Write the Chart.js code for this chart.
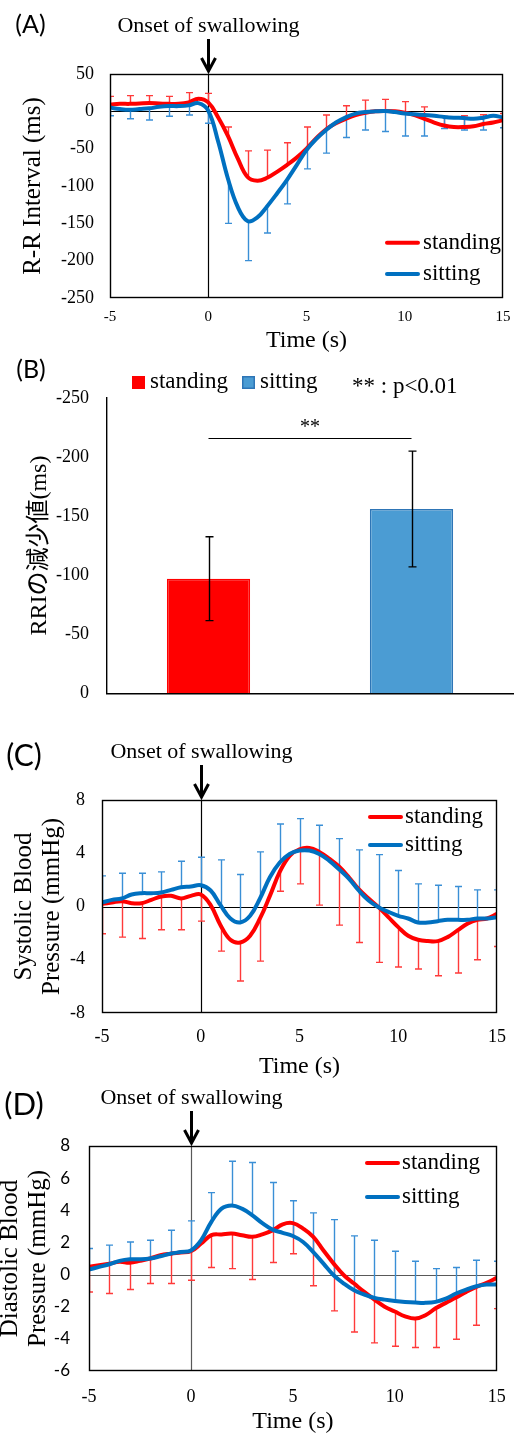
<!DOCTYPE html>
<html><head><meta charset="utf-8">
<script src="https://cdn.jsdelivr.net/npm/chart.js@4.4.1/dist/chart.umd.min.js"></script>
<style>
html,body{margin:0;padding:0;background:#fff;overflow:hidden;}
#wrap{position:relative;width:521px;height:1434px;overflow:hidden;background:#fff;}
canvas{position:absolute;left:0;}
</style></head><body><div id="wrap">
<canvas id="cA" width="521" height="355" style="top:0px"></canvas>
<canvas id="cB" width="521" height="367" style="top:355px"></canvas>
<canvas id="cC" width="521" height="360" style="top:722px"></canvas>
<canvas id="cD" width="521" height="358" style="top:1078px"></canvas>
</div>
<script>
// ---------- DATA ----------
const timeLine = [-5,-4.5,-4,-3.5,-3,-2.5,-2,-1.5,-1,-0.5,0,0.5,1,1.5,2,2.5,3,3.5,4,4.5,5,5.5,6,6.5,7,7.5,8,8.5,9,9.5,10,10.5,11,11.5,12,12.5,13,13.5,14,14.5,15];
const timeErr = [-5,-4,-3,-2,-1,0,1,2,3,4,5,6,7,8,9,10,11,12,13,14,15];
const xTicksTime = [-5,0,5,10,15];

// (A) R-R interval (ms)
const rriStanding = [9,10,10,10.5,11,10.5,10,10,12,17,12,-8,-33,-63,-88,-93,-89,-81,-72,-62,-50,-36,-24,-16,-10,-5,-2,0,0.5,0,-2,-5,-10,-15,-19,-21,-21,-20,-17,-15,-12];
const rriSitting = [5,3,2,3,4,6,7,7,8,11,1,-40,-90,-128,-147,-142,-127,-110,-92,-72,-52,-37,-25,-15,-8,-3,-1,0,0.5,-1,-3,-4,-5,-6,-7.5,-8.5,-9,-10,-8.5,-6,-8];
const rriStandingSD = [11,11,10,10,13,12,12,35,37,30,29,19,17.5,17,15.5,15,16,12,15,12.5,9];
const rriSittingSD = [11,12,15.6,13.5,13,17,60,53,36,32,25,31,27,24,27.5,30,28,15.5,16,16.5,14];

// (B) RRI decrease
const groups = ['standing','sitting'];
const rriDrop = [-97,-156];
const rriDropSD = [35.5,49];

// (C) Systolic blood pressure (mmHg)
const sbpStanding = [0.2,0.3,0.4,0.25,0.25,0.5,0.75,0.8,0.6,0.8,0.9,0.1,-1.4,-2.5,-2.7,-2.2,-0.9,0.8,2.6,3.8,4.3,4.4,4.1,3.6,3.0,2.2,1.3,0.6,-0.05,-0.8,-1.55,-2.2,-2.5,-2.6,-2.6,-2.3,-1.8,-1.3,-1.0,-0.9,-0.55];
const sbpSitting = [0.3,0.5,0.6,0.9,1.0,1.0,1.05,1.25,1.45,1.5,1.6,1.2,0.1,-0.9,-1.2,-0.7,0.6,2.2,3.3,3.95,4.2,4.2,3.95,3.45,2.8,2.1,1.2,0.45,-0.05,-0.4,-0.7,-0.9,-1.2,-1.2,-1.1,-1.0,-1.0,-1.0,-0.9,-0.9,-0.8];
const sbpStandingSD = [2.25,2.7,2.65,2.5,2.35,2.0,1.95,2.9,3.2,1.45,2.6,4.0,4.4,4.0,4.15,3.0,2.2,2.6,3.2,3.0,2.45];
const sbpSittingSD = [2.0,1.9,1.5,1.55,1.95,2.1,3.4,3.6,3.5,2.9,2.4,2.15,2.3,3.05,3.95,3.4,2.9,2.7,2.5,2.15,2.05];

// (D) Diastolic blood pressure (mmHg)
const dbpStanding = [0.48,0.58,0.68,0.79,0.73,0.85,1.0,1.2,1.3,1.37,1.45,1.93,2.45,2.5,2.55,2.45,2.35,2.5,2.75,3.13,3.2,2.86,2.35,1.5,0.68,-0.04,-0.56,-1.08,-1.56,-2.0,-2.3,-2.6,-2.74,-2.53,-2.1,-1.76,-1.43,-1.08,-0.77,-0.52,-0.2];
const dbpSitting = [0.31,0.48,0.64,0.85,0.95,0.95,1.0,1.14,1.3,1.4,1.5,2.14,3.28,4.1,4.3,4.1,3.7,3.2,2.8,2.6,2.4,2.03,1.4,0.68,-0.04,-0.56,-0.98,-1.24,-1.45,-1.56,-1.64,-1.7,-1.74,-1.76,-1.7,-1.5,-1.18,-0.93,-0.73,-0.62,-0.62];
const dbpStandingSD = [1.56,1.86,1.66,1.56,1.86,1.8,2.01,2.18,2.66,2.0,1.9,3.05,2.94,3.01,2.69,2.16,1.8,2.44,2.59,2.38,1.92];
const dbpSittingSD = [1.31,1.19,1.08,1.14,1.46,1.84,1.82,2.75,3.27,2.93,2.19,2.44,3.46,3.39,3.59,3.09,2.57,2.07,1.62,1.62,1.45];

// ---------- STYLE ----------
const SERIF = '"Liberation Serif","Times New Roman",serif';
const SANS = 'Lato,"Open Sans",sans-serif';
const RED = '#FF0000', BLUE = '#0070C0', RED_ERR = '#FF3A3A', BLUE_ERR = '#3A8FD6';

function xy(ts, vs){ return ts.map((t,i)=>({x:t, y:vs[i]})); }

function decoPlugin(p){
  return {
    id: 'deco',
    beforeDatasetsDraw(chart){
      const {ctx, chartArea:a, scales:{x, y}} = chart;
      ctx.save();
      const y0 = Math.round(y.getPixelForValue(0)) + 0.5;
      const x0 = Math.round(x.getPixelForValue(0)) + 0.5;
      ctx.strokeStyle = p.zeroColor; ctx.lineWidth = 1.2;
      ctx.beginPath(); ctx.moveTo(a.left, y0); ctx.lineTo(a.right, y0);
      ctx.moveTo(x0, a.top); ctx.lineTo(x0, a.bottom); ctx.stroke();
      ctx.beginPath(); ctx.rect(a.left, a.top, a.right - a.left, a.bottom - a.top); ctx.clip();
      p.errors.forEach(e => {
        ctx.strokeStyle = e.color; ctx.lineWidth = 1.4;
        timeErr.forEach((t, i) => {
          const m = e.mean[timeLine.indexOf(t)];
          const v = m + e.dir * e.sd[i];
          const px = Math.round(x.getPixelForValue(t)) + 0.5;
          const p1 = y.getPixelForValue(m), p2 = y.getPixelForValue(v);
          ctx.beginPath(); ctx.moveTo(px, p1); ctx.lineTo(px, p2);
          ctx.moveTo(px - 3.5, p2); ctx.lineTo(px + 3.5, p2); ctx.stroke();
        });
      });
      ctx.restore();
    },
    afterDraw(chart){
      const {ctx, chartArea:a, scales:{x}} = chart;
      ctx.save();
      ctx.strokeStyle = '#000'; ctx.lineWidth = 1.4;
      ctx.strokeRect(Math.round(a.left)+0.5, Math.round(a.top)+0.5, Math.round(a.right-a.left)-1, Math.round(a.bottom-a.top)-1);
      const x0 = Math.round(x.getPixelForValue(0)) + 0.5;
      const tip = a.top - 3, tail = a.top - 35;
      ctx.strokeStyle = '#000'; ctx.lineWidth = 3; ctx.lineJoin = 'miter';
      ctx.beginPath(); ctx.moveTo(x0, tail); ctx.lineTo(x0, tip - 1); ctx.stroke();
      ctx.beginPath(); ctx.moveTo(x0 - 7, tip - 13); ctx.lineTo(x0, tip); ctx.lineTo(x0 + 7, tip - 13); ctx.stroke();
      ctx.fillStyle = '#000';
      ctx.font = '22px ' + SERIF; ctx.textAlign = 'center'; ctx.textBaseline = 'alphabetic';
      ctx.fillText('Onset of swallowing', x0, a.top - 42);
      ctx.font = p.labelSize + 'px ' + SANS; ctx.textAlign = 'center'; ctx.textBaseline = 'middle';
      ctx.fillText(p.label, p.labelX, p.labelY);
      ctx.lineCap = 'round'; ctx.lineWidth = 4;
      p.legend.forEach(l => {
        ctx.strokeStyle = l.color;
        ctx.beginPath(); ctx.moveTo(p.legX1, l.y); ctx.lineTo(p.legX2, l.y); ctx.stroke();
        ctx.fillStyle = '#000'; ctx.font = '23px ' + SERIF; ctx.textAlign = 'left'; ctx.textBaseline = 'middle';
        ctx.fillText(l.text, p.legText, l.y);
      });
      ctx.restore();
    }
  };
}

function linePanel(id, p){
  return new Chart(document.getElementById(id), {
    type: 'line',
    data: { datasets: [
      {label:'sitting', data: xy(timeLine, p.sit), borderColor: BLUE, borderWidth: 4, pointRadius: 0, tension: 0.4, fill: false},
      {label:'standing', data: xy(timeLine, p.stand), borderColor: RED, borderWidth: 4, pointRadius: 0, tension: 0.4, fill: false}
    ]},
    options: {
      responsive: false, animation: false, devicePixelRatio: 1,
      layout: {padding: {top: p.top, right: p.right, left: 0, bottom: 0}},
      plugins: {legend: {display: false}, tooltip: {enabled: false}},
      scales: {
        x: {type: 'linear', min: -5, max: 15,
            afterBuildTicks(s){ s.ticks = xTicksTime.map(v => ({value: v})); },
            grid: {display: false, drawTicks: false}, border: {display: false},
            ticks: {color: '#000', font: {family: SERIF, size: p.xTickSize}, padding: p.xTickPad, maxRotation: 0, autoSkip: false},
            title: {display: true, text: 'Time (s)', color: '#000', font: {family: SERIF, size: 24}, padding: {top: 0, bottom: p.xTitlePad}},
            afterFit(s){ s.height = p.xh; }},
        y: {min: p.ymin, max: p.ymax,
            grid: {display: false, drawTicks: false}, border: {display: false},
            ticks: {stepSize: p.ystep, color: '#000', font: {family: p.yTickFamily, size: p.yTickSize}, padding: p.yTickPad},
            title: {display: true, text: p.ytitle, color: '#000', font: {family: SERIF, size: 25, lineHeight: p.yTitleLH}, padding: {top: p.yTitlePad, bottom: 0}},
            afterFit(s){ s.width = p.yw; }}
      }
    },
    plugins: [decoPlugin(p)]
  });
}

// (A)
linePanel('cA', {
  stand: rriStanding, sit: rriSitting,
  top: 74, right: 9, xh: 57, yw: 110,
  ymin: -250, ymax: 50, ystep: 50,
  xTickSize: 15, xTickPad: 10.5, xTitlePad: 0,
  yTickFamily: SERIF, yTickSize: 18, yTickPad: 16,
  ytitle: 'R-R Interval (ms)', yTitleLH: 1.2, yTitlePad: 18,
  zeroColor: '#000',
  errors: [
    {mean: rriStanding, sd: rriStandingSD, dir: 1, color: RED_ERR},
    {mean: rriSitting, sd: rriSittingSD, dir: -1, color: BLUE_ERR}
  ],
  label: '(A)', labelSize: 25, labelX: 30.5, labelY: 24.5,
  legX1: 387, legX2: 418, legText: 423,
  legend: [{text: 'standing', color: RED, y: 242.7}, {text: 'sitting', color: BLUE, y: 274}]
});

// (C)
linePanel('cC', {
  stand: sbpStanding, sit: sbpSitting,
  top: 78, right: 24, xh: 69, yw: 102,
  ymin: -8, ymax: 8, ystep: 4,
  xTickSize: 18, xTickPad: 13.2, xTitlePad: 0.6,
  yTickFamily: SERIF, yTickSize: 18, yTickPad: 17,
  ytitle: ['Systolic Blood', 'Pressure (mmHg)'], yTitleLH: 1.12, yTitlePad: 10,
  zeroColor: '#000',
  errors: [
    {mean: sbpStanding, sd: sbpStandingSD, dir: -1, color: RED_ERR},
    {mean: sbpSitting, sd: sbpSittingSD, dir: 1, color: BLUE_ERR}
  ],
  label: '(C)', labelSize: 30, labelX: 24, labelY: 34,
  legX1: 370, legX2: 401, legText: 405,
  legend: [{text: 'standing', color: RED, y: 95}, {text: 'sitting', color: BLUE, y: 123}]
});

// (D)
linePanel('cD', {
  stand: dbpStanding, sit: dbpSitting,
  top: 68, right: 24, xh: 65, yw: 89,
  ymin: -6, ymax: 8, ystep: 2,
  xTickSize: 18, xTickPad: 15.2, xTitlePad: 0,
  yTickFamily: SANS, yTickSize: 17, yTickPad: 19,
  ytitle: ['Diastolic Blood', 'Pressure (mmHg)'], yTitleLH: 1.12, yTitlePad: -4,
  zeroColor: '#595959',
  errors: [
    {mean: dbpStanding, sd: dbpStandingSD, dir: -1, color: RED_ERR},
    {mean: dbpSitting, sd: dbpSittingSD, dir: 1, color: BLUE_ERR}
  ],
  label: '(D)', labelSize: 31, labelX: 24, labelY: 27,
  legX1: 367, legX2: 398, legText: 402,
  legend: [{text: 'standing', color: RED, y: 85}, {text: 'sitting', color: BLUE, y: 119}]
});

// (B)
const barDeco = {
  id: 'barDeco',
  afterDatasetsDraw(chart){
    const {ctx, scales:{x, y}} = chart;
    ctx.save();
    ctx.strokeStyle = '#000'; ctx.lineWidth = 1.4;
    rriDrop.forEach((m, i) => {
      const px = Math.round(x.getPixelForValue(i)) + 0.5;
      const a = y.getPixelForValue(m - rriDropSD[i]), b = y.getPixelForValue(m + rriDropSD[i]);
      ctx.beginPath(); ctx.moveTo(px, a); ctx.lineTo(px, b);
      ctx.moveTo(px - 4, a); ctx.lineTo(px + 4, a);
      ctx.moveTo(px - 4, b); ctx.lineTo(px + 4, b); ctx.stroke();
    });
    const x1 = x.getPixelForValue(0), x2 = x.getPixelForValue(1);
    const ys = Math.round(y.getPixelForValue(-216)) + 0.5;
    ctx.lineWidth = 1.2;
    ctx.beginPath(); ctx.moveTo(x1, ys); ctx.lineTo(x2, ys); ctx.stroke();
    ctx.fillStyle = '#000'; ctx.font = '20px ' + SERIF; ctx.textAlign = 'center'; ctx.textBaseline = 'alphabetic';
    ctx.fillText('**', (x1 + x2) / 2, ys - 6);
    ctx.restore();
  },
  afterDraw(chart){
    const {ctx} = chart;
    ctx.save();
    ctx.fillStyle = '#000'; ctx.font = '25px ' + SANS; ctx.textAlign = 'center'; ctx.textBaseline = 'middle';
    ctx.fillText('(B)', 31, 15);
    ctx.fillStyle = RED; ctx.fillRect(132, 21, 13, 13);
    ctx.fillStyle = '#4B9CD3'; ctx.fillRect(242, 21, 13, 13);
    ctx.strokeStyle = '#2E75B6'; ctx.lineWidth = 1.5; ctx.strokeRect(242.75, 21.75, 11.5, 11.5);
    ctx.fillStyle = '#000'; ctx.font = '23px ' + SERIF; ctx.textAlign = 'left'; ctx.textBaseline = 'middle';
    ctx.fillText('standing', 150, 26.5);
    ctx.fillText('sitting', 260, 26.5);
    ctx.textBaseline = 'alphabetic';
    ctx.fillText('** : p<0.01', 352, 38);
    ctx.restore();
  }
};

new Chart(document.getElementById('cB'), {
  type: 'bar',
  data: {labels: groups, datasets: [{
    data: rriDrop,
    backgroundColor: [RED, '#4B9CD3'],
    borderColor: [RED, '#2E75B6'],
    borderWidth: 1.5,
    barPercentage: 0.41, categoryPercentage: 1
  }]},
  options: {
    responsive: false, animation: false, devicePixelRatio: 1,
    layout: {padding: {top: 43, right: 8, left: 0, bottom: 0}},
    plugins: {legend: {display: false}, tooltip: {enabled: false}},
    scales: {
      x: {grid: {display: false, drawTicks: false}, ticks: {display: false},
          border: {display: true, color: '#000', width: 1.4},
          afterFit(s){ s.height = 20; }},
      y: {reverse: true, min: -250, max: 0,
          grid: {display: false, drawTicks: false},
          border: {display: true, color: '#000', width: 1.4},
          ticks: {stepSize: 50, color: '#000', font: {family: SERIF, size: 18}, padding: 18},
          title: {display: true, text: 'RRIの減少値(ms)', color: '#000', font: {family: SERIF + ',"Noto Sans CJK JP"', size: 24, lineHeight: 1.2}, padding: {top: 25.6, bottom: 0}},
          afterFit(s){ s.width = 107; }}
    }
  },
  plugins: [barDeco]
});
</script>
</body></html>
